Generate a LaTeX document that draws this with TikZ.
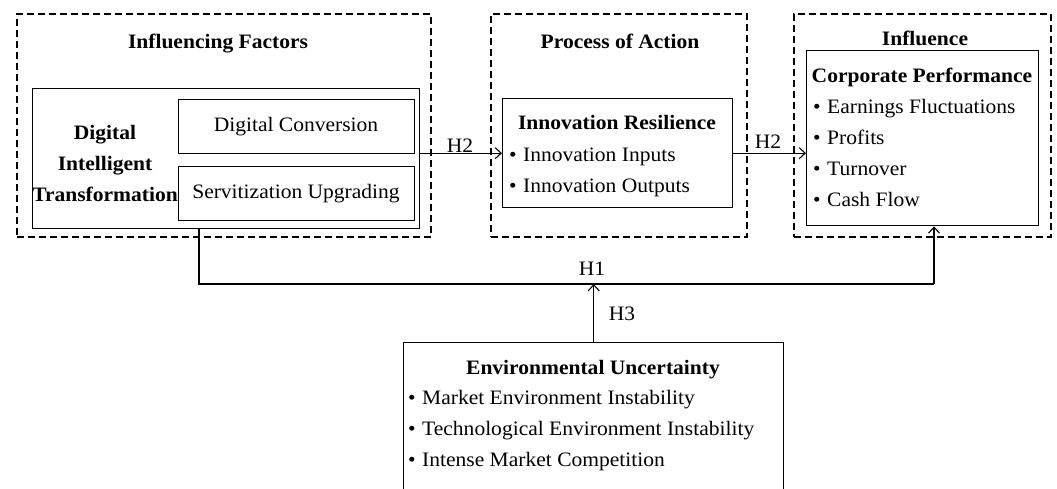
\documentclass[tikz,border=0pt]{standalone}
\usepackage{fontspec}
\setmainfont{Liberation Serif}[FakeStretch=1.05]
\usetikzlibrary{arrows.meta}
\begin{document}
\begin{tikzpicture}[x=1pt,y=-1pt,
  group/.style={draw, line width=1.8pt, dash pattern=on 7pt off 4pt, anchor=north west},
  box/.style={draw, line width=1.4pt, anchor=north west, inner sep=0pt},
  txt/.style={font=\fontsize{20.5}{31}\selectfont, inner sep=0pt},
  head/.style={font=\fontsize{20.5}{31}\selectfont\bfseries, inner sep=0pt},
  item/.style={txt, anchor=base west},
  arr/.style={line width=1.1pt, -{Straight Barb[length=6pt,width=11pt,line width=1.1pt]}},
  link/.style={line width=1.8pt}]
\useasboundingbox (0,0) rectangle (1057,488);
\clip (0,0) rectangle (1057,488);
\newcommand{\bul}{\makebox[14pt][l]{\textbullet}}

% dashed group frames
\node[group, minimum width=414pt, minimum height=223pt] (g1) at (16,13) {};
\node[group, minimum width=256pt, minimum height=223pt] (g2) at (490,13) {};
\node[group, minimum width=257pt, minimum height=223pt] (g3) at (793,13) {};
\node[head, anchor=base] (t1) at (218,48) {Influencing Factors};
\node[head, anchor=base] (t2) at (620,48) {Process of Action};
\node[head, anchor=base] (t3) at (925,45) {Influence};

% influencing factors
\node[box, minimum width=387pt, minimum height=140pt] (inner) at (32,88) {};
\node[box, minimum width=236pt, minimum height=54pt] (dc) at (178,99) {};
\node[box, minimum width=236pt, minimum height=54pt] (su) at (178,166) {};
\node[txt, anchor=base] (dct) at (296,131) {Digital Conversion};
\node[txt, anchor=base] (sut) at (296,198) {Servitization Upgrading};
\node[head, align=center, anchor=center] (dit) at (105,163) {Digital\\Intelligent\\Transformation};

% innovation resilience
\node[box, minimum width=230pt, minimum height=109pt] (ir) at (502,98) {};
\node[head, anchor=base] (irt) at (617,129) {Innovation Resilience};
\node[item] (ir1) at (509,161) {\bul Innovation Inputs};
\node[item] (ir2) at (509,192) {\bul Innovation Outputs};

% corporate performance
\node[box, minimum width=232pt, minimum height=175pt] (cp) at (806,50) {};
\node[head, anchor=base] (cpt) at (922,82) {Corporate Performance};
\node[item] (cp1) at (813,113) {\bul Earnings Fluctuations};
\node[item] (cp2) at (813,144) {\bul Profits};
\node[item] (cp3) at (813,175) {\bul Turnover};
\node[item] (cp4) at (813,206) {\bul Cash Flow};

% environmental uncertainty
\node[box, minimum width=380pt, minimum height=160pt] (eu) at (403,342) {};
\node[head, anchor=base] (eut) at (593,374) {Environmental Uncertainty};
\node[item] (eu1) at (408,404) {\bul Market Environment Instability};
\node[item] (eu2) at (408,435) {\bul Technological Environment Instability};
\node[item] (eu3) at (408,466) {\bul Intense Market Competition};

% connectors
\coordinate (h1l) at (199,284);
\coordinate (h1r) at (934,284);
\draw[arr] (inner.east |- ir.west) -- (ir.west);
\draw[arr] (ir.east) -- (ir.east -| cp.west);
\draw[link] (inner.south -| h1l) -- (h1l) -- (h1r);
\draw[arr] (h1r) -- (h1r |- cp.south);
\draw[arr] (eu.north) -- (eu.north |- h1l);

\node[txt, anchor=base] (l2a) at (460,152) {H2};
\node[txt, anchor=base] (l2b) at (768,148) {H2};
\node[txt, anchor=base] (l1) at (592,275) {H1};
\node[txt, anchor=base] (l3) at (622,320) {H3};
\end{tikzpicture}
\end{document}
